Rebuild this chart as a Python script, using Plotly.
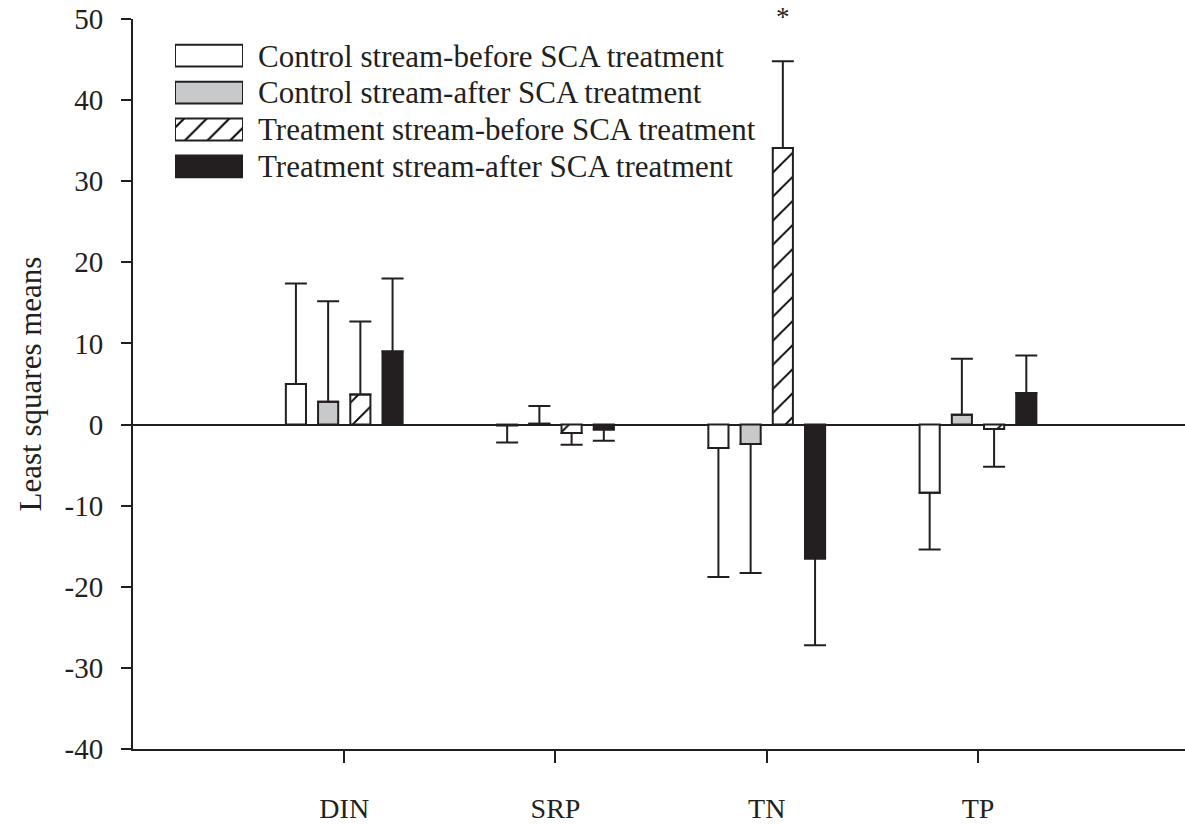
import plotly.graph_objects as go

# ---- data ----
categories = ["DIN", "SRP", "TN", "TP"]
series_names = [
    "Control stream-before SCA treatment",
    "Control stream-after SCA treatment",
    "Treatment stream-before SCA treatment",
    "Treatment stream-after SCA treatment",
]
control_before = [5.0, -0.1, -2.9, -8.4]
control_before_err = [12.4, 2.1, 15.9, 7.0]
control_after = [2.8, 0.1, -2.4, 1.2]
control_after_err = [12.4, 2.2, 15.9, 6.9]
treatment_before = [3.7, -1.05, 34.1, -0.55]
treatment_before_err = [9.0, 1.45, 10.7, 4.65]
treatment_after = [9.0, -0.6, -16.5, 3.9]
treatment_after_err = [9.0, 1.4, 10.7, 4.6]
y_ticks = [-40, -30, -20, -10, 0, 10, 20, 30, 40, 50]
y_tick_labels = ["-40", "-30", "-20", "-10", "0", "10", "20", "30", "40", "50"]
significance = {"series": 2, "category": "TN", "label": "*"}

means = [control_before, control_after, treatment_before, treatment_after]
errs = [control_before_err, control_after_err, treatment_before_err, treatment_after_err]

# ---- style ----
INK = "#231f20"
FONT = "Liberation Serif, Times New Roman, serif"
fills = ["#ffffff", "#c8c9cb", "#ffffff", INK]
patterns = [None, None, dict(shape="/", size=17, solidity=0.11, fgcolor="#000000",
                             fgopacity=1, bgcolor="#ffffff", fillmode="replace"), None]
BARGAP = 0.39
BARGROUPGAP = 0.375

W, H = 1185, 824
ML, MR, MT, MB = 133, 0, 19, 67
PW, PH = W - ML - MR, H - MT - MB


def px_x(p):
    return (p - ML) / PW


def px_y(p):
    return (H - MB - p) / PH


fig = go.Figure()

for i, name in enumerate(series_names):
    up = [e if m >= 0 else 0 for m, e in zip(means[i], errs[i])]
    down = [e if m < 0 else 0 for m, e in zip(means[i], errs[i])]
    marker = dict(color=fills[i], line=dict(color=INK, width=2))
    if patterns[i]:
        marker["pattern"] = patterns[i]
    fig.add_trace(go.Bar(
        x=categories, y=means[i], name=name, marker=marker,
        error_y=dict(type="data", symmetric=False, array=up, arrayminus=down,
                     color=INK, thickness=2, width=11),
        showlegend=False, xaxis="x", yaxis="y",
    ))

    # custom legend swatch rows (inset axes)
    lmarker = dict(color=fills[i], line=dict(color=INK, width=2))
    if patterns[i]:
        lmarker["pattern"] = dict(patterns[i], size=16, solidity=0.12)
    fig.add_trace(go.Bar(
        x=[1], y=[name], orientation="h", marker=lmarker,
        width=0.59, offset=-0.295, showlegend=False, cliponaxis=False,
        xaxis="x2", yaxis="y2", hoverinfo="skip",
    ))

# significance asterisk
slot = (1 - BARGAP) / len(series_names)
si = significance["series"]
ci = categories.index(significance["category"])
fig.add_annotation(
    x=ci + (si - (len(series_names) - 1) / 2) * slot,
    y=means[si][ci] + errs[si][ci],
    xref="x", yref="y", text=significance["label"], showarrow=False,
    yanchor="bottom", yshift=27, font=dict(family=FONT, size=27, color=INK),
)

fig.update_layout(
    width=W, height=H,
    margin=dict(l=ML, r=MR, t=MT, b=MB, pad=0),
    paper_bgcolor="white", plot_bgcolor="white",
    barmode="group", bargap=BARGAP, bargroupgap=BARGROUPGAP,
    font=dict(family=FONT, color=INK),
    xaxis=dict(
        type="category", categoryorder="array", categoryarray=categories,
        range=[-1.0, 3.98], showgrid=False, zeroline=False,
        showline=True, linecolor=INK, linewidth=2,
        ticks="outside", ticklen=12, tickwidth=2, tickcolor=INK,
        tickfont=dict(family=FONT, size=28, color=INK), ticklabelstandoff=21,
    ),
    yaxis=dict(
        range=[-40, 50], tickvals=y_ticks, ticktext=y_tick_labels, showgrid=False,
        zeroline=True, zerolinecolor=INK, zerolinewidth=2,
        showline=True, linecolor=INK, linewidth=2,
        ticks="outside", ticklen=10, tickwidth=2, tickcolor=INK,
        tickfont=dict(family=FONT, size=29, color=INK), ticklabelstandoff=12,
        title=dict(text="Least squares means", font=dict(family=FONT, size=31, color=INK), standoff=14),
    ),
    xaxis2=dict(
        domain=[px_x(175), px_x(243)], range=[0, 1], anchor="y2",
        visible=False, fixedrange=True,
    ),
    yaxis2=dict(
        domain=[px_y(186.7), px_y(37.4)], anchor="x2", type="category",
        categoryorder="array", categoryarray=series_names, autorange="reversed",
        tickmode="array", tickvals=series_names, ticktext=series_names,
        side="right", showgrid=False, zeroline=False, showline=False, ticks="",
        tickfont=dict(family=FONT, size=31, color=INK), ticklabelstandoff=14,
        fixedrange=True,
    ),
)

fig.write_html(
    "out.html",
    config={"displayModeBar": False},
    post_script="document.body.style.margin='0';document.body.style.padding='0';",
)
